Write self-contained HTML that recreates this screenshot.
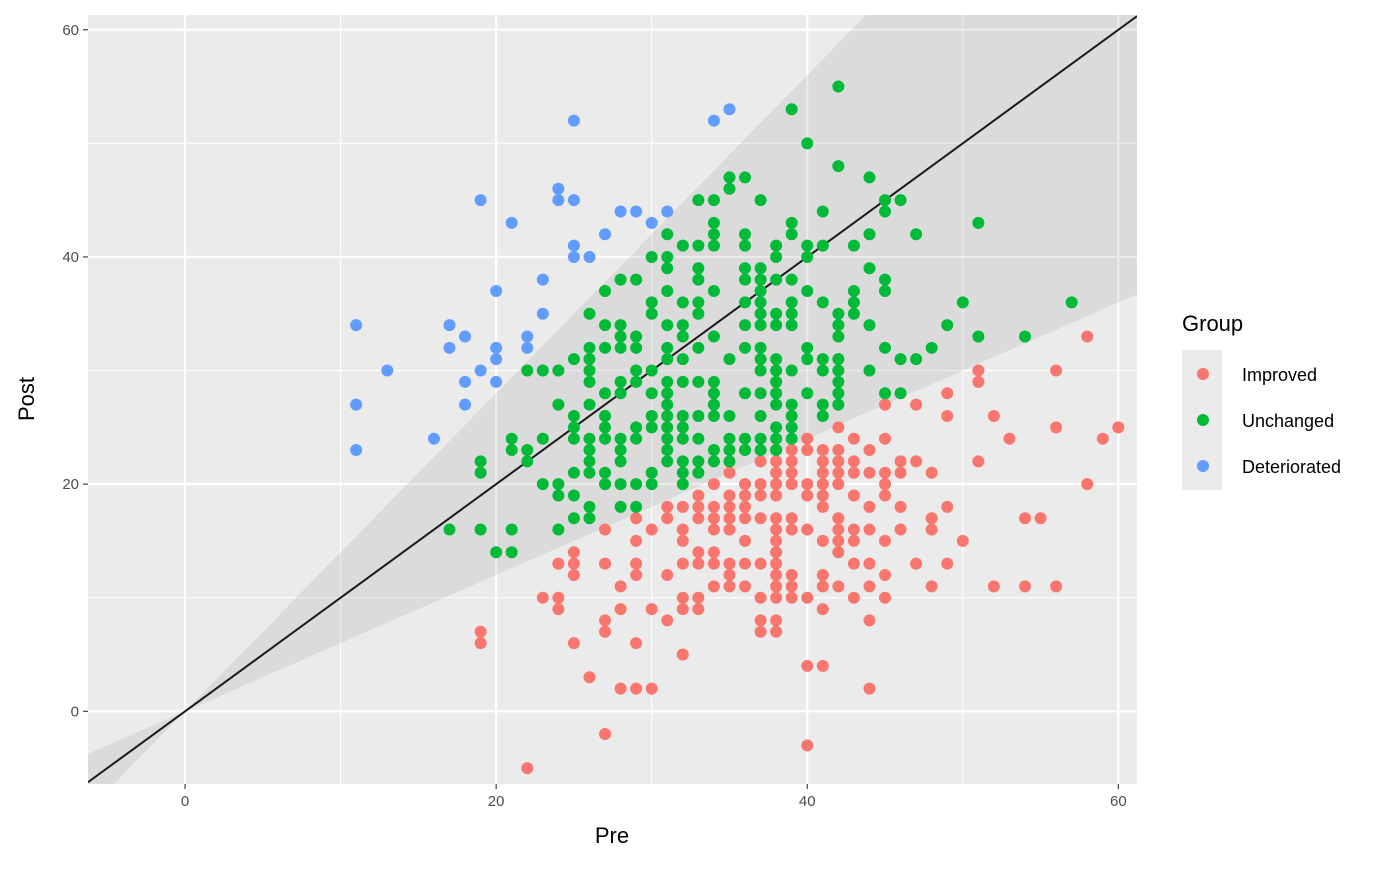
<!DOCTYPE html>
<html><head><meta charset="utf-8"><style>
body{margin:0;background:#fff;font-family:"Liberation Sans",Arial,sans-serif}
</style></head><body>
<svg id="chart" width="1400" height="866" xmlns="http://www.w3.org/2000/svg" font-family="Liberation Sans, Arial, sans-serif">
<defs><clipPath id="pc"><rect x="88" y="15" width="1049" height="769"/></clipPath></defs>
<rect x="88" y="15" width="1049" height="769" fill="#ebebeb"/>
<g id="grid"></g>
<g id="band" clip-path="url(#pc)"></g>
<g id="pts" clip-path="url(#pc)"></g>
<g id="axes"></g>
<text x="612" y="843" font-size="22" text-anchor="middle" fill="#000">Pre</text>
<text transform="translate(34,399) rotate(-90)" font-size="22" text-anchor="middle" fill="#000">Post</text>
<g>
<text x="1182" y="331" font-size="22" fill="#000">Group</text>
<rect x="1182" y="350" width="40" height="140" fill="#ebebeb"/>
<circle cx="1203" cy="374" r="6" fill="#F8766D"/>
<circle cx="1203" cy="420" r="6" fill="#00BA38"/>
<circle cx="1203" cy="466" r="6" fill="#619CFF"/>
<text x="1242" y="381" font-size="18" fill="#000">Improved</text>
<text x="1242" y="427" font-size="18" fill="#000">Unchanged</text>
<text x="1242" y="473" font-size="18" fill="#000">Deteriorated</text>
</g>
</svg>
<script>
const xTicks=[0,20,40,60];
const yTicks=[0,20,40,60];
const xMinor=[10,30,50];
const yMinor=[-10,10,30,50];
const bandUpperSlope=1.4;
const bandLowerSlope=0.6;
const deteriorated=[[11,34],[11,27],[11,23],[13,30],[16,24],[17,34],[17,32],[18,33],[18,29],[18,27],[19,45],[19,30],[20,37],[20,32],[20,31],[20,29],[21,43],[22,33],[22,32],[23,38],[23,35],[24,46],[24,45],[25,52],[25,45],[25,41],[25,40],[26,40],[27,42],[28,44],[29,44],[30,43],[31,44],[34,52],[35,53]];
const unchangedCols={17:[16],19:[22,21,16],20:[14],21:[24,23,16,14],22:[30,23,22],23:[30,24,20],24:[30,27,20,19,16],25:[31,26,25,24,21,19,17],26:[35,32,31,30,29,27,24,23,22,21,18,17],27:[37,34,32,28,26,25,24,21,20],28:[38,34,33,32,29,28,24,23,22,20,18],29:[38,33,32,30,29,25,24,20,18],30:[40,36,35,30,28,26,25,21,20],31:[42,40,39,37,34,32,31,29,28,27,26,25,24,23,22],32:[41,36,34,33,31,29,26,25,24,22,21,20],33:[45,41,39,38,36,35,32,29,26,24,22,21],34:[45,43,42,41,37,33,29,28,27,26,23,22],35:[47,46,31,26,24,23,22],36:[47,42,41,39,38,36,34,32,28,24,23],37:[45,39,38,37,36,35,34,32,31,30,28,26,24,23],38:[41,40,38,35,34,31,30,29,28,27,25,24,23],39:[53,43,42,38,36,35,34,30,27,26,25,24],40:[50,41,40,37,32,31,28],41:[44,41,36,31,30,27,26],42:[55,48,35,34,33,31,30,29,28,27],43:[41,37,36,35],44:[47,42,39,34,30],45:[45,44,38,37,32,28],46:[45,31,28],47:[42,31],48:[32],49:[34],50:[36],51:[43,33],54:[33],57:[36]};
const improvedCols={19:[7,6],22:[-5],23:[10],24:[13,10,9],25:[14,13,12,6],26:[3],27:[16,13,8,7,-2],28:[11,9,2],29:[17,15,13,12,6,2],30:[16,9,2],31:[18,17,12,8],32:[18,16,15,13,10,9,5],33:[19,18,17,14,13,10,9],34:[20,18,17,16,14,13,11],35:[21,19,18,17,16,13,12,11],36:[20,19,18,17,15,13,11],37:[22,20,19,17,13,10,8,7],38:[23,22,21,20,19,17,16,15,14,13,12,11,10,8,7],39:[23,22,21,20,17,16,12,11,10],40:[24,23,20,19,16,10,4,-3],41:[23,22,21,20,19,18,15,12,11,9,4],42:[25,23,22,21,20,17,16,15,14,11],43:[24,22,21,19,16,15,13,10],44:[23,21,18,16,13,11,8,2],45:[27,24,21,20,19,15,12,10],46:[22,21,18,16],47:[27,22,13],48:[21,17,16,11],49:[28,26,18,13],50:[15],51:[30,29,22],52:[26,11],53:[24],54:[17,11],55:[17],56:[30,25,11],58:[33,20],59:[24],60:[25]};

const NS='http://www.w3.org/2000/svg';
const X0=88,X1=1137,Y0=15,Y1=784;
const xmin=-6.24,xmax=61.2,ymin=-6.4,ymax=61.3;
const sx=v=>X0+(v-xmin)/(xmax-xmin)*(X1-X0);
const sy=v=>Y1-(v-ymin)/(ymax-ymin)*(Y1-Y0);
function mk(tag,attrs,parent){const e=document.createElementNS(NS,tag);for(const k in attrs)e.setAttribute(k,attrs[k]);parent.appendChild(e);return e;}
const grid=document.getElementById('grid');
xMinor.forEach(v=>{const l=mk('line',{x1:sx(v),x2:sx(v),y1:Y0,y2:Y1,stroke:'#fff','stroke-width':1.1},grid);

});
yMinor.forEach(v=>{if(v<ymin)return;const l=mk('line',{x1:X0,x2:X1,y1:sy(v),y2:sy(v),stroke:'#fff','stroke-width':1.1},grid);

});
xTicks.forEach(v=>{const l=mk('line',{x1:sx(v),x2:sx(v),y1:Y0,y2:Y1,stroke:'#fff','stroke-width':2.2},grid);

});
yTicks.forEach(v=>{const l=mk('line',{x1:X0,x2:X1,y1:sy(v),y2:sy(v),stroke:'#fff','stroke-width':2.2},grid);

});
const band=document.getElementById('band');
const bx0=xmin-2,bx1=xmax+2;
const poly=mk('polygon',{points:[[bx0,bandUpperSlope*bx0],[bx1,bandUpperSlope*bx1],[bx1,bandLowerSlope*bx1],[bx0,bandLowerSlope*bx0]].map(p=>sx(p[0])+','+sy(p[1])).join(' '),fill:'#999','fill-opacity':0.2},band);


const pts=document.getElementById('pts');
function drawPts(arr,color,name){arr.forEach(p=>{const c=mk('circle',{cx:sx(p[0]),cy:sy(p[1]),r:6,fill:color},pts);

});}
function flat(cols){const a=[];for(const k in cols)cols[k].forEach(v=>a.push([+k,v]));return a;}
drawPts(flat(improvedCols),'#F8766D','point-improved');
drawPts(flat(unchangedCols),'#00BA38','point-unchanged');
drawPts(deteriorated,'#619CFF','point-deteriorated');
const idl=mk('line',{x1:sx(xmin),y1:sy(xmin),x2:sx(xmax),y2:sy(xmax),stroke:'#1a1a1a','stroke-width':2},band);


const axes=document.getElementById('axes');
xTicks.forEach(v=>{const t=mk('line',{x1:sx(v),x2:sx(v),y1:Y1,y2:Y1+5,stroke:'#333','stroke-width':1.1},axes);


const l=mk('text',{x:sx(v),y:Y1+22,'font-size':15,'text-anchor':'middle',fill:'#4d4d4d'},axes);l.textContent=v;

});
yTicks.forEach(v=>{const t=mk('line',{x1:X0-5,x2:X0,y1:sy(v),y2:sy(v),stroke:'#333','stroke-width':1.1},axes);


const l=mk('text',{x:X0-9,y:sy(v)+5,'font-size':15,'text-anchor':'end',fill:'#4d4d4d'},axes);l.textContent=v;

});
</script>
</body></html>
